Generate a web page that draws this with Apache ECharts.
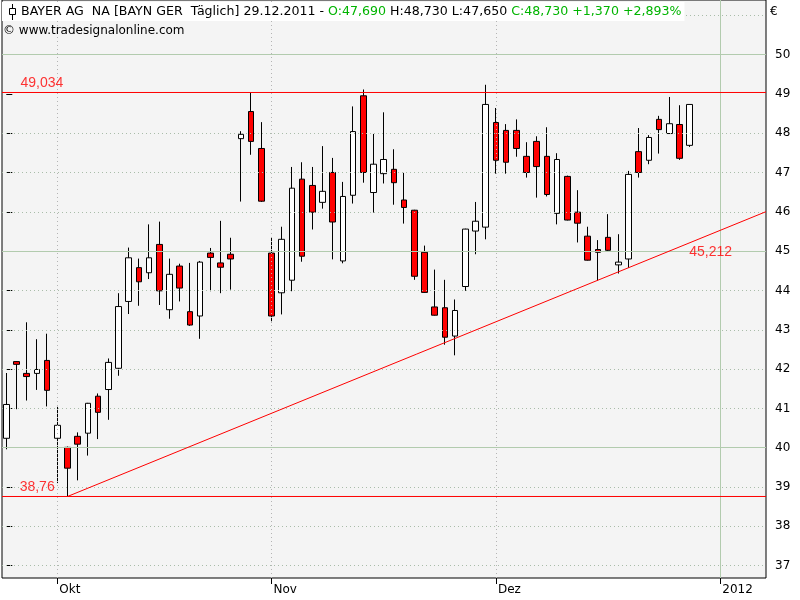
<!DOCTYPE html>
<html><head><meta charset="utf-8">
<script src="https://cdn.jsdelivr.net/npm/echarts@6/dist/echarts.min.js"></script>
<style>html,body{margin:0;padding:0;background:#fff}#c{width:800px;height:600px}</style>
</head><body><div id="c"></div>
<script>
// ---- data ----
const dates = [
 '26.09.2011','27.09.2011','28.09.2011','29.09.2011','30.09.2011',
 '03.10.2011','04.10.2011','05.10.2011','06.10.2011','07.10.2011',
 '10.10.2011','11.10.2011','12.10.2011','13.10.2011','14.10.2011',
 '17.10.2011','18.10.2011','19.10.2011','20.10.2011','21.10.2011',
 '24.10.2011','25.10.2011','26.10.2011','27.10.2011','28.10.2011',
 '31.10.2011',
 '01.11.2011','02.11.2011','03.11.2011','04.11.2011',
 '07.11.2011','08.11.2011','09.11.2011','10.11.2011','11.11.2011',
 '14.11.2011','15.11.2011','16.11.2011','17.11.2011','18.11.2011',
 '21.11.2011','22.11.2011','23.11.2011','24.11.2011','25.11.2011',
 '28.11.2011','29.11.2011','30.11.2011',
 '01.12.2011','02.12.2011',
 '05.12.2011','06.12.2011','07.12.2011','08.12.2011','09.12.2011',
 '12.12.2011','13.12.2011','14.12.2011','15.12.2011','16.12.2011',
 '19.12.2011','20.12.2011','21.12.2011','22.12.2011','23.12.2011',
 '27.12.2011','28.12.2011','29.12.2011'
];
const opens = [
 40.24,42.19,41.89,41.89,42.22,
 40.24,40.01,40.29,40.37,41.31,
 41.48,42.02,43.72,44.58,44.45,
 45.17,43.51,44.62,43.46,43.35,
 44.95,44.70,44.92,47.86,48.55,
 47.61,
 44.95,43.94,44.26,46.83,
 46.67,46.24,47.00,44.75,46.42,
 48.95,46.49,46.97,47.08,46.30,
 46.04,44.97,43.58,43.56,42.84,
 44.10,45.51,45.61,
 48.27,48.07,
 48.07,47.41,47.79,47.41,45.96,
 46.90,45.99,45.38,45.04,45.35,
 44.65,44.80,47.53,47.31,48.35,
 47.99,48.22,47.69
];
const highs = [
 41.90,42.20,43.19,42.76,42.90,
 41.04,40.03,40.39,41.14,41.38,
 42.27,43.93,45.09,44.81,45.68,
 45.75,44.81,44.68,44.70,44.75,
 45.08,45.77,45.34,48.05,49.04,
 48.28,
 45.34,45.62,47.14,47.26,
 47.14,47.67,47.37,46.76,48.68,
 49.11,47.98,48.53,47.59,46.99,
 46.05,45.14,44.53,44.27,43.77,
 45.57,46.25,49.23,
 48.64,48.23,
 48.35,47.77,47.92,48.15,47.49,
 46.92,46.55,45.62,45.28,45.94,
 45.43,47.04,48.13,47.95,48.44,
 48.92,48.71,48.73
];
const lows = [
 39.96,40.98,41.20,41.47,41.05,
 39.10,38.76,39.17,39.80,40.22,
 40.71,41.83,43.40,43.61,44.29,
 43.63,43.28,43.72,43.10,42.77,
 43.98,43.93,44.02,46.26,47.45,
 46.25,
 43.19,43.39,43.98,44.73,
 45.55,46.08,44.79,44.69,46.21,
 46.74,45.98,46.72,46.18,45.70,
 44.27,43.94,43.36,42.62,42.35,
 43.99,44.92,45.30,
 46.97,46.97,
 47.40,46.87,46.36,46.39,45.68,
 45.78,45.22,44.76,44.25,44.99,
 44.43,44.57,46.87,47.21,47.48,
 47.98,47.32,47.65
];
const closes = [
 41.10,42.12,41.81,41.99,41.46,
 40.57,39.48,40.09,41.13,40.90,
 42.17,43.59,44.83,44.22,44.83,
 43.99,44.41,44.06,43.12,44.72,
 44.84,44.59,44.80,47.97,47.79,
 46.27,
 43.35,45.30,46.60,44.87,
 45.99,46.52,45.74,46.39,48.04,
 47.00,47.21,47.33,46.74,46.11,
 44.36,43.95,43.37,42.81,43.49,
 45.56,45.76,48.73,
 47.31,47.26,
 47.61,47.00,47.15,46.44,47.33,
 45.79,45.71,44.77,44.97,45.02,
 44.72,46.95,47.00,47.89,48.09,
 48.24,47.36,48.73
];
const monthLabels = ['Okt', 'Nov', 'Dez', '2012'];
const monthIndex = [5, 26, 48, 70];
const yTickValues = [37, 38, 39, 40, 41, 42, 43, 44, 45, 46, 47, 48, 49, 50];
const yGridValues = [37, 38, 39, 40, 41, 42, 43, 44, 45, 46, 47, 48, 49, 50, 51];
const majorGridValues = [40, 45, 50];
const levelValues = [49.034, 38.76];
const levelLabels = ['49,034', '38,76'];
const trendFrom = [6, 38.76];
const trendTo = [67, 45.212];
const trendLabel = '45,212';
const titleName = 'BAYER AG  NA [BAYN GER  Täglich]';
const copyrightText = '\u00a9 www.tradesignalonline.com';

// ---- layout / style ----
const X_MIN = -0.42, X_MAX = 74.48;
const Y_MIN = 36.687, Y_MAX = 51.386;
const FONT = '"DejaVu Sans", sans-serif';
const RED = '#ff0000';
const fmt = (v, d) => v.toFixed(d).replace('.', ',');

const n = dates.length;
const candleData = dates.map((d, i) => [i, opens[i], closes[i], lows[i], highs[i]]);
const lastO = opens[n - 1], lastH = highs[n - 1], lastL = lows[n - 1], lastC = closes[n - 1];
const prevC = closes[n - 2];
const chg = lastC - prevC;
const chgPct = chg / prevC * 100;
const sgn = v => (v >= 0 ? '+' : '-') + fmt(Math.abs(v), 3);

const slope = (trendTo[1] - trendFrom[1]) / (trendTo[0] - trendFrom[0]);
const trendEndValue = trendFrom[1] + slope * (X_MAX - trendFrom[0]);

// dotted minor grid lines (a level line drawn on the same row hides its grid line)
const minorGrid = yGridValues.filter(v => majorGridValues.indexOf(v) < 0 &&
  !levelValues.some(l => Math.abs(l - v) < 0.05));

// level lines + trend line in one red series, separated by gaps
const redPoints = [];
levelValues.forEach(v => { redPoints.push([X_MIN, v], [X_MAX, v], '-'); });
redPoints.push(trendFrom, [X_MAX, trendEndValue]);

const chart = echarts.init(document.getElementById('c'), null, {renderer: 'canvas'});
chart.setOption({
  animation: false,
  backgroundColor: '#ffffff',
  grid: {left: 2, right: 34, top: 0, bottom: 22, show: true,
         backgroundColor: '#f4f4f4', borderColor: '#000', borderWidth: 1},
  xAxis: {
    type: 'value', min: X_MIN, max: X_MAX,
    axisLine: {show: false},
    splitLine: {show: false},
    axisTick: {show: true, customValues: monthIndex, length: 6, lineStyle: {color: '#000'}},
    axisLabel: {show: true, customValues: monthIndex, align: 'left', margin: 6,
      color: '#000', fontFamily: FONT, fontSize: 12, padding: [0, 0, 0, 2],
      formatter: v => monthLabels[monthIndex.indexOf(v)] || ''}
  },
  yAxis: {
    type: 'value', position: 'right', min: Y_MIN, max: Y_MAX,
    axisLine: {show: false},
    axisTick: {show: true, customValues: yTickValues, length: 6, lineStyle: {color: '#000'}},
    axisLabel: {show: true, customValues: yTickValues, margin: 9, color: '#000',
      fontFamily: FONT, fontSize: 12, formatter: v => String(v)},
    splitLine: {show: false}
  },
  series: [
    {
      type: 'line', data: [], z: 1, silent: true,
      markLine: {
        symbol: 'none', silent: true, animation: false, label: {show: false},
        data: minorGrid.map(v => ({
          yAxis: v, lineStyle: {color: '#a9bca9', type: [1, 3], width: 1}
        })).concat(monthIndex.map((m, k) => ({
          xAxis: m,
          lineStyle: k === monthIndex.length - 1
            ? {color: '#b2cbae', type: 'solid', width: 1}
            : {color: '#b4b4b4', type: [1, 3], width: 1}
        }))).concat(majorGridValues.map(v => ({
          yAxis: v, lineStyle: {color: '#b2cbae', type: 'solid', width: 1}
        })))
      }
    },
    {
      type: 'candlestick', data: candleData, z: 2,
      encode: {x: 0, y: [1, 2, 3, 4]},
      barWidth: 6,
      itemStyle: {color: '#ffffff', color0: RED, borderColor: '#000000',
                  borderColor0: '#000000', borderWidth: 1}
    },
    {
      type: 'line', data: redPoints, z: 10, silent: true, symbol: 'none', showSymbol: false,
      connectNulls: false, clip: true, color: RED,
      lineStyle: {color: RED, width: 1, type: 'solid', opacity: 1},
      emphasis: {disabled: true}
    },
    {
      type: 'scatter', z: 6, silent: true, symbolSize: 1,
      itemStyle: {color: 'rgba(0,0,0,0)'},
      data: [
        {value: [1.44, levelValues[0]], label: {formatter: levelLabels[0], position: [0, -16]}},
        {value: [1.36, levelValues[1]], label: {formatter: levelLabels[1], position: [0, -16]}},
        {value: [trendTo[0], trendTo[1]], label: {formatter: trendLabel, position: [0, 3]}}
      ],
      label: {show: true, color: RED, fontFamily: '"Liberation Sans", sans-serif', fontSize: 14,
              align: 'left', verticalAlign: 'top'}
    }
  ],
  graphic: [
    {type: 'text', left: 2, top: 2, z: 100, silent: true,
     style: {
       text: '{k|' + titleName + ' ' + dates[n - 1] + ' - }{g|O:' + fmt(lastO, 3) + ' }{k|H:' + fmt(lastH, 3) +
             ' L:' + fmt(lastL, 3) + ' }{g|C:' + fmt(lastC, 3) + ' ' + sgn(chg) + ' ' + sgn(chgPct) + '%}',
       backgroundColor: '#ffffff', padding: [3, 3, 3, 19],
       rich: {
         k: {fill: '#000', fontFamily: FONT, fontSize: 12.6},
         g: {fill: '#00b400', fontFamily: FONT, fontSize: 12.6}
       }
     }},
    {type: 'line', z: 101, silent: true, shape: {x1: 12.5, y1: 4, x2: 12.5, y2: 20},
     style: {stroke: '#000', lineWidth: 1}},
    {type: 'rect', z: 102, silent: true, shape: {x: 9.5, y: 8.5, width: 6, height: 6},
     style: {fill: '#fff', stroke: '#000', lineWidth: 1}},
    {type: 'text', left: 3, top: 25, z: 100, silent: true,
     style: {text: copyrightText, fill: '#000', fontFamily: FONT, fontSize: 12}},
    {type: 'text', left: 770, top: 6, z: 100, silent: true,
     style: {text: '\u20ac', fill: '#000', fontFamily: FONT, fontSize: 12}}
  ]
});
</script>
</body></html>
